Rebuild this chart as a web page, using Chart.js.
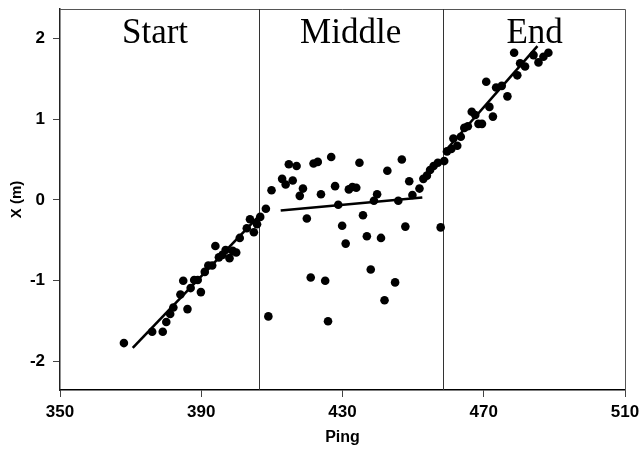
<!DOCTYPE html>
<html>
<head>
<meta charset="utf-8">
<script src="https://cdn.jsdelivr.net/npm/chart.js@4"></script>
<style>
html,body{margin:0;padding:0;background:#fff;}
#wrap{width:642px;height:450px;position:relative;}
</style>
</head>
<body>
<div id="wrap"><canvas id="c" width="642" height="450"></canvas></div>
<script>
// ---- data ----
const startPing = [368.1,376.1,379.1,380.1,381.2,382.1,384.1,384.9,386.1,387.0,388.0,389.0,389.9,391.0,392.0,393.1,394.0,395.0,396.0,396.9,398.0,398.9,399.9,400.9,402.9,403.8,404.9,405.8,406.7,408.3];
const startX    = [-1.77,-1.63,-1.63,-1.51,-1.41,-1.33,-1.17,-1.00,-1.35,-1.09,-0.99,-0.99,-1.14,-0.89,-0.81,-0.81,-0.57,-0.71,-0.68,-0.62,-0.72,-0.63,-0.65,-0.47,-0.35,-0.24,-0.40,-0.30,-0.21,-0.11];

const middlePing = [409.0,409.9,412.9,413.9,414.8,415.9,417.0,417.9,418.8,419.9,421.0,421.8,423.0,423.9,425.1,425.9,426.8,427.9,428.8,429.9,430.9,431.8,432.8,433.9,434.8,435.8,436.9,438.0,438.9,439.8,440.9,441.9,442.7,444.9,445.8,446.8,447.8,448.9,449.8,451.8,452.9,453.9,454.8,455.8,457.0,457.8,458.8];
const middleX    = [-1.44,0.12,0.26,0.19,0.44,0.24,0.42,0.05,0.14,-0.23,-0.96,0.45,0.47,0.07,-1.00,-1.50,0.53,0.17,-0.06,-0.32,-0.54,0.13,0.16,0.15,0.46,-0.19,-0.45,-0.86,-0.01,0.07,-0.47,-1.24,0.36,-1.02,-0.01,0.50,-0.33,0.23,0.06,0.14,0.26,0.30,0.37,0.42,0.46,-0.34,0.48];

const endPing = [459.6,460.8,461.4,462.5,463.5,464.5,465.5,466.6,467.6,468.5,469.5,470.7,471.6,472.6,473.5,475.1,476.7,478.6,479.5,480.3,481.7,484.1,485.5,486.9,488.3];
const endX    = [0.60,0.63,0.76,0.67,0.78,0.89,0.91,1.09,1.05,0.94,0.94,1.46,1.15,1.03,1.39,1.41,1.28,1.82,1.54,1.69,1.65,1.79,1.70,1.77,1.82];

// regression line end points (ping, X)
const startFitPing  = [370.6, 406.5];
const startFitX     = [-1.83, -0.19];
const middleFitPing = [412.5, 452.6];
const middleFitX    = [-0.13, 0.03];
const endFitPing    = [458.6, 485.2];
const endFitX       = [0.58, 1.90];

// phase boundaries and labels
const dividerPing = [406.4, 458.5];
const phaseNames  = ["Start", "Middle", "End"];
const phaseLabelPing = [376.9, 432.3, 484.4];
const phaseLabelX = 1.94;

const xTicks = [350, 390, 430, 470, 510];
const yTicks = [-2, -1, 0, 1, 2];

function pts(xs, ys){ return xs.map((x,i)=>({x:x, y:ys[i]})); }

const phasePlugin = {
  id: 'phases',
  beforeDatasetsDraw(chart){
    const {ctx, chartArea:a, scales:{x, y}} = chart;
    ctx.save();
    // frame (top and right)
    ctx.strokeStyle = '#555';
    ctx.lineWidth = 1;
    ctx.beginPath();
    ctx.moveTo(a.left, a.top + 0.5); ctx.lineTo(a.right + 0.5, a.top + 0.5);
    ctx.lineTo(a.right + 0.5, a.bottom);
    ctx.stroke();
    // dividers
    ctx.strokeStyle = '#333';
    dividerPing.forEach(v=>{
      const px = Math.round(x.getPixelForValue(v)) + 0.5;
      ctx.beginPath(); ctx.moveTo(px, a.top); ctx.lineTo(px, a.bottom); ctx.stroke();
    });
    // labels
    ctx.fillStyle = '#000';
    ctx.font = '35px "Liberation Serif", "Times New Roman", serif';
    ctx.textAlign = 'center';
    ctx.textBaseline = 'alphabetic';
    phaseNames.forEach((n,i)=>{
      ctx.fillText(n, x.getPixelForValue(phaseLabelPing[i]), y.getPixelForValue(phaseLabelX));
    });
    ctx.restore();
  }
};

const dotStyle = {type:'scatter', pointRadius:4.3, pointHoverRadius:4.3, pointBackgroundColor:'#000', pointBorderWidth:0, showLine:false};
const lineStyle = {type:'line', borderColor:'#000', borderWidth:2.6, pointRadius:0, showLine:true, fill:false};

new Chart(document.getElementById('c'), {
  data: {
    datasets: [
      Object.assign({label:'Start', data: pts(startPing, startX)}, dotStyle),
      Object.assign({label:'Middle', data: pts(middlePing, middleX)}, dotStyle),
      Object.assign({label:'End', data: pts(endPing, endX)}, dotStyle),
      Object.assign({label:'Start fit', data: pts(startFitPing, startFitX)}, lineStyle),
      Object.assign({label:'Middle fit', data: pts(middleFitPing, middleFitX)}, lineStyle),
      Object.assign({label:'End fit', data: pts(endFitPing, endFitX)}, lineStyle)
    ]
  },
  options: {
    responsive: false,
    animation: false,
    events: [],
    layout: {padding: {top: 9, right: 17, left: 0, bottom: 0}},
    plugins: {legend: {display:false}, tooltip: {enabled:false}},
    scales: {
      x: {
        type: 'linear', min: 350, max: 510,
        afterBuildTicks(s){ s.ticks = xTicks.map(v=>({value:v})); },
        afterFit(s){ s.height = 60; s.paddingLeft = 0; s.paddingRight = 0; },
        grid: {drawOnChartArea:false, drawTicks:true, tickLength:7, color:'#444', lineWidth:1},
        border: {display:true, color:'#000', width:1.5},
        ticks: {color:'#000', padding:5, maxRotation:0, font:{family:'"Liberation Sans", Arial, sans-serif', size:17, weight:'bold'}},
        title: {display:true, text:'Ping', color:'#000', padding:{top:0, bottom:3}, font:{family:'"Liberation Sans", Arial, sans-serif', size:16, weight:'bold'}}
      },
      y: {
        type: 'linear', min: -2.35, max: 2.36,
        afterBuildTicks(s){ s.ticks = yTicks.map(v=>({value:v})); },
        afterFit(s){ s.width = 60; s.paddingTop = 0; s.paddingBottom = 0; },
        grid: {drawOnChartArea:false, drawTicks:true, tickLength:7, color:'#444', lineWidth:1},
        border: {display:true, color:'#222', width:1.5},
        ticks: {color:'#000', padding:8, font:{family:'"Liberation Sans", Arial, sans-serif', size:17, weight:'bold'}},
        title: {display:true, text:'X (m)', color:'#000', padding:{top:8, bottom:0}, font:{family:'"Liberation Sans", Arial, sans-serif', size:15, weight:'bold'}}
      }
    }
  },
  plugins: [phasePlugin]
});
</script>
</body>
</html>
